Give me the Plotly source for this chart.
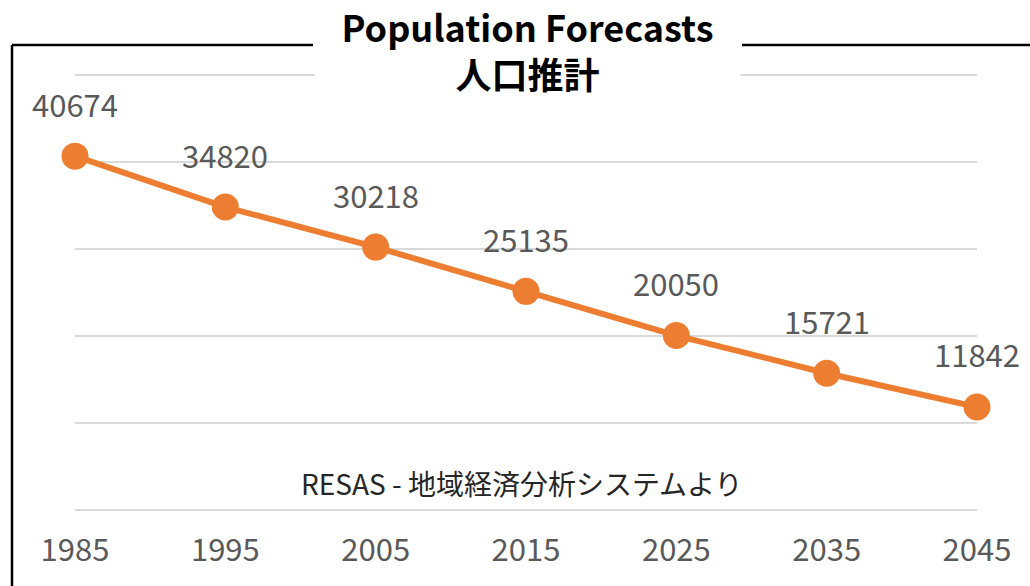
import plotly.graph_objects as go

years = [1985, 1995, 2005, 2015, 2025, 2035, 2045]
population = [40674, 34820, 30218, 25135, 20050, 15721, 11842]
title_en = "Population Forecasts"
title_ja = "人口推計"
source_note = "RESAS - 地域経済分析システムより"

W, H = 1030, 586
L, R, T, B = 75, 53, 70, 71
pw, ph = W - L - R, H - T - B

def px_x(p):
    return (p - L) / pw

def px_y(p):
    return (H - B - p) / ph

font_family = "Noto Sans CJK JP"
orange = "#ED7D31"

fig = go.Figure()
fig.add_trace(go.Scatter(
    x=years, y=population, mode="lines+markers",
    line=dict(color=orange, width=6),
    marker=dict(color=orange, size=27),
    hoverinfo="x+y", showlegend=False, cliponaxis=False,
))

annotations = []
for yr, v in zip(years, population):
    annotations.append(dict(
        x=yr, y=v, xref="x", yref="y", text=str(v), showarrow=False,
        yshift=53, font=dict(family=font_family, size=31, color="#595959"),
    ))
annotations.append(dict(
    x=px_x(522), y=px_y(483), xref="paper", yref="paper", text=source_note,
    showarrow=False, xanchor="center", yanchor="middle",
    font=dict(family=font_family, size=28, color="#262626"),
))
annotations.append(dict(
    x=px_x(527.5), y=px_y(49), xref="paper", yref="paper",
    text="<b>" + title_en + "<br>" + title_ja + "</b>",
    showarrow=False, xanchor="center", yanchor="middle", align="center",
    width=425, bgcolor="white", borderpad=0,
    font=dict(family=font_family, size=36, color="#000000"),
))

shapes = [
    dict(type="line", xref="paper", yref="paper", x0=px_x(12), x1=px_x(313), y0=px_y(45), y1=px_y(45),
         line=dict(color="black", width=2.5)),
    dict(type="line", xref="paper", yref="paper", x0=px_x(742), x1=px_x(1032), y0=px_y(45), y1=px_y(45),
         line=dict(color="black", width=2.5)),
    dict(type="line", xref="paper", yref="paper", x0=px_x(12), x1=px_x(12), y0=px_y(45), y1=px_y(590),
         line=dict(color="black", width=2.5)),
]

fig.update_layout(
    width=W, height=H,
    margin=dict(l=L, r=R, t=T, b=B, autoexpand=False),
    paper_bgcolor="white", plot_bgcolor="white",
    annotations=annotations, shapes=shapes,
    xaxis=dict(
        range=[1985, 2045], tickmode="array", tickvals=years, ticktext=[str(y) for y in years],
        showgrid=False, zeroline=False, showline=False, ticks="", automargin=False,
        tickfont=dict(family=font_family, size=31, color="#595959"),
        ticklabelstandoff=14,
    ),
    yaxis=dict(
        range=[-575, 50575], tickmode="array", tickvals=[0, 10000, 20000, 30000, 40000, 50000],
        showgrid=True, gridcolor="#D9D9D9", gridwidth=1.5, zeroline=False, automargin=False,
        showticklabels=False, showline=False, ticks="",
    ),
)

fig.write_html("out.html", config={"displayModeBar": False},
               post_script="document.body.style.margin='0';document.body.style.overflow='hidden';")
